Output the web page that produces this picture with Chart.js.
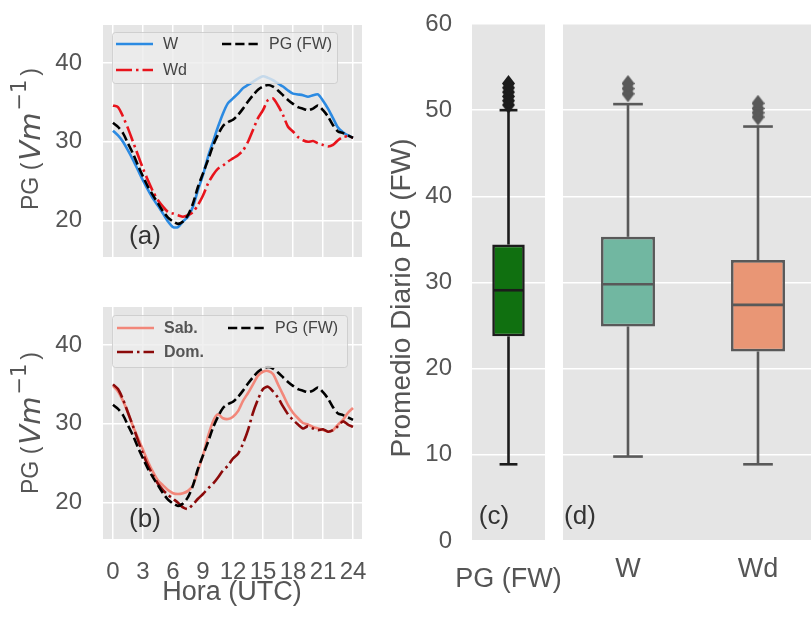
<!DOCTYPE html>
<html><head><meta charset="utf-8">
<script src="https://cdn.jsdelivr.net/npm/chart.js@4.4.1/dist/chart.umd.min.js"></script>
<style>
html,body{margin:0;padding:0;background:#fff;overflow:hidden;}
#wrap{position:relative;width:811px;height:619px;overflow:hidden;}
canvas{position:absolute;}
</style></head><body>
<div id="wrap">
<canvas id="ca" width="370" height="270" style="left:0;top:0;width:370px;height:270px"></canvas>
<canvas id="cb" width="370" height="349" style="left:0;top:270px;width:370px;height:349px"></canvas>
<canvas id="cc" width="200" height="619" style="left:370px;top:0;width:200px;height:619px"></canvas>
<canvas id="cd" width="280" height="619" style="left:555px;top:0;width:280px;height:619px"></canvas>
</div>
<script>
// ---------------- DATA ----------------
const hours = [0,0.5,1,1.5,2,2.5,3,3.5,4,4.5,5,5.5,6,6.5,7,7.5,8,8.5,9,9.5,10,10.5,11,11.5,12,12.5,13,13.5,14,14.5,15,15.5,16,16.5,17,17.5,18,18.5,19,19.5,20,20.5,21,21.5,22,22.5,23,23.5,24];
const hourTicks = [0,3,6,9,12,15,18,21,24];
const hourTickLabels = ['0','3','6','9','12','15','18','21','24'];
const pgTicks = [20,30,40];
const boxTicks = [0,10,20,30,40,50,60];

const seriesW  = [31.4,30.8,30.0,28.9,27.7,26.4,25.1,23.9,22.8,21.9, 20.9,19.9,19.2,19.2,19.9,20.5,21.8,23.9,25.8,28.1, 30.0,31.9,33.6,34.9,35.5,36.1,36.8,37.2,37.6,38.0, 38.3,38.1,37.8,37.4,37.0,36.5,36.1,36.0,35.9,35.7, 35.9,36.0,35.2,34.2,33.0,31.8,31.2,30.8,30.5];
const seriesWd = [34.6,34.4,33.2,31.7,30.0,28.3,26.6,25.1,23.7,22.6, 21.8,21.1,20.9,20.7,20.5,20.7,21.1,22.0,23.2,24.7, 25.8,26.6,27.0,27.5,27.9,28.3,28.9,30.0,31.5,33.0, 34.0,35.3,35.5,34.6,33.4,31.9,31.3,30.6,30.2,30.0, 30.1,29.8,29.6,29.4,29.6,30.2,30.6,30.7,30.5];
const seriesFW = [32.4,31.9,31.1,29.8,28.5,27.0,25.6,24.3,23.2,22.2, 21.2,20.4,19.9,19.6,19.9,20.7,22.2,24.3,26.0,27.7, 29.5,30.9,32.0,32.5,32.8,33.4,34.2,35.1,35.9,36.6, 37.0,37.2,37.0,36.5,35.9,35.3,34.8,34.4,34.2,34.0, 34.2,34.6,34.0,33.2,32.1,31.3,31.1,30.8,30.5];
const seriesSab = [34.8,34.1,32.9,31.4,29.7,28.2,26.7,25.2,23.9,22.8, 22.2,21.6,21.2,21.1,21.2,21.5,22.2,24.1,26.0,28.4, 30.3,31.2,30.7,30.6,30.9,31.6,32.9,33.9,35.0,36.1, 36.6,36.7,36.3,35.0,33.7,32.4,31.4,30.7,30.1,29.9, 29.6,29.4,29.2,29.0,29.2,29.9,30.5,31.4,32.0];
const seriesDom = [35.0,34.4,33.1,31.4,29.7,27.9,26.2,24.7,23.5,22.4, 21.6,21.0,20.5,20.0,19.4,19.2,19.8,20.5,21.1,21.8, 22.4,23.2,24.1,24.7,25.6,26.2,27.5,29.2,31.4,33.1, 34.4,34.7,34.1,33.3,32.2,31.2,30.5,29.9,29.4,29.7, 29.4,29.2,29.3,29.0,29.2,29.7,30.3,29.9,29.6];

const boxCatC = ['PG (FW)'];
const boxCatD = ['W','Wd'];
const q1C = [23.75], medC = [29.1], q3C = [34.4], loC = [8.9], hiC = [50.0];
const outC = [50.6,51.1,51.6,52.1,52.6,53.1];
const q1D = [24.9,22.0], medD = [29.8,27.4], q3D = [35.3,32.6], loD = [9.8,8.9], hiD = [50.7,48.1];
const outW = [51.9,52.5,53.1];
const outWd = [49.2,49.7,50.2,50.8];

// ---------------- HELPERS ----------------
Chart.defaults.font.family = 'Liberation Sans';
Chart.defaults.animation = false;
const GRID = '#ffffff', BG = '#e5e5e5', TICK = '#555555';
const pts = (xs, ys) => xs.map((h,i)=>({x:h, y:ys[i]}));

function diamond(color, w, h){
  const c = document.createElement('canvas'); c.width = w; c.height = h;
  const g = c.getContext('2d'); g.fillStyle = color; g.beginPath();
  g.moveTo(w/2,0); g.lineTo(w,h/2); g.lineTo(w/2,h); g.lineTo(0,h/2); g.closePath(); g.fill();
  return c;
}

const bgPlugin = { id:'panelBg', beforeDraw(chart){ const {ctx, chartArea:a} = chart; ctx.save(); ctx.fillStyle = BG; ctx.fillRect(a.left,a.top,a.right-a.left,a.bottom-a.top); ctx.restore(); } };

const textPlugin = { id:'texts', afterDraw(chart, args, o){
  if(!o || !o.items) return; const ctx = chart.ctx;
  o.items.forEach(it=>{
    ctx.save(); ctx.translate(it.x, it.y); if(it.rot) ctx.rotate(it.rot);
    ctx.textBaseline = 'middle';
    const parts = it.parts || [{t:it.t, f:it.f}];
    let total = 0; parts.forEach(p=>{ ctx.font = p.f; p.w = ctx.measureText(p.t).width + (p.gap||0); total += p.w; });
    let x = -total/2;
    parts.forEach(p=>{ ctx.font = p.f; ctx.fillStyle = it.c; ctx.textAlign='left'; ctx.fillText(p.t, x + (p.gap||0), p.dy||0); x += p.w; });
    ctx.restore();
  });
}};

const legendPlugin = { id:'customLegend', afterDatasetsDraw(chart, args, o){
  if(!o || !o.items) return; const {ctx, chartArea:a} = chart;
  const x0 = a.left + o.dx, y0 = a.top + o.dy;
  ctx.save();
  ctx.beginPath(); ctx.roundRect(x0+0.5, y0+0.5, o.w, o.h, 3);
  ctx.fillStyle = 'rgba(236,236,236,0.8)'; ctx.fill();
  ctx.strokeStyle = 'rgba(200,200,200,0.8)'; ctx.lineWidth = 1; ctx.stroke();
  o.items.forEach(it=>{
    const ds = chart.data.datasets[it.ds];
    const cx = x0 + it.col, cy = y0 + it.row;
    ctx.strokeStyle = ds.borderColor; ctx.lineWidth = ds.borderWidth; ctx.setLineDash(ds.borderDash || []);
    ctx.beginPath(); ctx.moveTo(cx, cy); ctx.lineTo(cx + 37, cy); ctx.stroke(); ctx.setLineDash([]);
    ctx.font = (it.bold ? 'bold ' : '') + '16px Liberation Sans'; ctx.fillStyle = it.bold ? '#555' : '#444';
    ctx.textBaseline = 'middle'; ctx.textAlign = 'left';
    ctx.fillText(ds.label, cx + 47, cy + 1);
  });
  ctx.restore();
}};

const boxPlugin = { id:'boxParts',
  beforeDatasetsDraw(chart, args, o){
    if(!o || !o.lo) return; const ctx = chart.ctx, ys = chart.scales.y;
    const meta = chart.getDatasetMeta(0);
    ctx.save(); ctx.strokeStyle = o.color; ctx.lineWidth = 2.6; ctx.lineCap = 'butt';
    meta.data.forEach((el,i)=>{
      const capW = el.width * o.capFrac;
      [[o.q1[i], o.lo[i]], [o.q3[i], o.hi[i]]].forEach(([a,b])=>{
        const ya = ys.getPixelForValue(a), yb = ys.getPixelForValue(b);
        ctx.beginPath(); ctx.moveTo(el.x, ya); ctx.lineTo(el.x, yb); ctx.stroke();
        ctx.beginPath(); ctx.moveTo(el.x - capW/2, yb); ctx.lineTo(el.x + capW/2, yb); ctx.stroke();
      });
    });
    ctx.restore();
  },
  afterDatasetsDraw(chart, args, o){
    if(!o || !o.med) return; const ctx = chart.ctx, ys = chart.scales.y;
    const meta = chart.getDatasetMeta(0);
    ctx.save(); ctx.strokeStyle = o.color; ctx.lineWidth = 2.6;
    meta.data.forEach((el,i)=>{
      const y = ys.getPixelForValue(o.med[i]);
      ctx.beginPath(); ctx.moveTo(el.x - el.width/2 + 1, y); ctx.lineTo(el.x + el.width/2 - 1, y); ctx.stroke();
    });
    ctx.restore();
  }
};

const zeroPad = s => { s.paddingTop = 0; s.paddingBottom = 0; s.paddingLeft = 0; s.paddingRight = 0; };
const tickFont = {family:'Liberation Sans', size:24};
function lineScales(showX){
  return {
    x: { type:'linear', min:-1, max:24.9,
         afterBuildTicks: s => { s.ticks = hourTicks.map(v=>({value:v})); },
         ticks: { display: showX, font: tickFont, color: TICK, padding: 19, autoSkip:false, maxRotation:0, minRotation:0,
                  callback: (v,i) => hourTickLabels[i] },
         grid: { color: GRID, lineWidth: 1.5, drawTicks:false }, border:{display:false},
         afterFit: s => { s.height = showX ? 80 : 0; zeroPad(s); } },
    y: { type:'linear', min:15.4, max:44.8,
         afterBuildTicks: s => { s.ticks = pgTicks.map(v=>({value:v})); },
         ticks: { font: tickFont, color: TICK, padding: 21 },
         grid: { color: GRID, lineWidth: 1.5, drawTicks:false }, border:{display:false},
         afterFit: s => { s.width = 103; zeroPad(s); } }
  };
}
function lineDs(label, ys, color, dash, order){
  return { label, data: pts(hours, ys), borderColor: color, borderWidth: 2.6, borderDash: dash,
           pointRadius: 0, tension: 0.25, fill:false, order };
}
const DASH = [9.25, 4], DASHDOT = [16, 4, 2.5, 4];
const yTitleParts = [
  {t:'PG (', f:'23px Liberation Sans'},
  {t:'Vm', f:'italic 29px DejaVu Sans', gap:2},
  {t:'\u22121', f:'21px DejaVu Sans', dy:-11, gap:2},
  {t:')', f:'23px Liberation Sans', gap:4}
];

// ---------------- (a) ----------------
new Chart(document.getElementById('ca'), {
  type:'line',
  data:{ datasets:[
    lineDs('W', seriesW, '#2b8ae2', [], 2),
    lineDs('Wd', seriesWd, '#e8141c', DASHDOT, 1),
    lineDs('PG (FW)', seriesFW, '#000000', DASH, 0)
  ]},
  options:{ responsive:false, layout:{autoPadding:false, padding:{top:25,right:8,bottom:13,left:0}},
    scales: lineScales(false),
    plugins:{ legend:{display:false}, tooltip:{enabled:false},
      customLegend:{ dx:9, dy:7, w:225, h:51, items:[{ds:0,col:4,row:12},{ds:1,col:4,row:38},{ds:2,col:110,row:12}] },
      texts:{ items:[
        {parts:yTitleParts, x:32, y:139, rot:-Math.PI/2, c:TICK},
        {t:'(a)', f:'26px Liberation Sans', x:145, y:237, c:'#333'}
      ]}
    }
  },
  plugins:[bgPlugin, legendPlugin, textPlugin]
});

// ---------------- (b) ----------------
new Chart(document.getElementById('cb'), {
  type:'line',
  data:{ datasets:[
    lineDs('Sab.', seriesSab, '#f2877a', [], 2),
    lineDs('Dom.', seriesDom, '#8b0a0a', DASHDOT, 1),
    lineDs('PG (FW)', seriesFW, '#000000', DASH, 0)
  ]},
  options:{ responsive:false, layout:{autoPadding:false, padding:{top:37,right:8,bottom:0,left:0}},
    scales: lineScales(true),
    plugins:{ legend:{display:false}, tooltip:{enabled:false},
      customLegend:{ dx:9, dy:8, w:235, h:52, items:[{ds:0,col:5,row:13,bold:true},{ds:1,col:5,row:37,bold:true},{ds:2,col:116,row:13}] },
      texts:{ items:[
        {parts:yTitleParts, x:32, y:153, rot:-Math.PI/2, c:TICK},
        {t:'Hora (UTC)', f:'27px Liberation Sans', x:232, y:323, c:TICK},
        {t:'(b)', f:'26px Liberation Sans', x:145, y:250, c:'#333'}
      ]}
    }
  },
  plugins:[bgPlugin, legendPlugin, textPlugin]
});

// ---------------- (c) ----------------
const boxYScale = (showTicks) => ({ type:'linear', min:0, max:60,
  afterBuildTicks: s => { s.ticks = boxTicks.map(v=>({value:v})); },
  ticks:{ display: showTicks, font: tickFont, color: TICK, padding: 20 },
  grid:{ color: GRID, lineWidth: 1.5, drawTicks:false }, border:{display:false},
  afterFit: s => { s.width = showTicks ? 102 : 0; zeroPad(s); } });

new Chart(document.getElementById('cc'), {
  type:'bar',
  data:{ labels: boxCatC, datasets:[
    { data: boxCatC.map((c,i)=>[q1C[i], q3C[i]]), backgroundColor:'#107010', borderColor:'#1c1c1c', borderWidth:2.6,
      borderSkipped:false, barPercentage:0.445, categoryPercentage:1, order:1 },
    { type:'line', showLine:false, data: outC.map(v=>({x:'PG (FW)', y:v})), pointStyle: diamond('#1c1c1c',13,17), pointRadius:8, order:0 }
  ]},
  options:{ responsive:false, layout:{autoPadding:false, padding:{top:24,right:25,bottom:0,left:0}},
    scales:{
      x:{ type:'category', offset:true, grid:{display:false, drawTicks:false}, border:{display:false},
          ticks:{ font:{family:'Liberation Sans', size:27}, color:TICK, padding:22 },
          afterFit: s => { s.height = 78; zeroPad(s); } },
      y: boxYScale(true)
    },
    plugins:{ legend:{display:false}, tooltip:{enabled:false},
      boxParts:{ q1:q1C, q3:q3C, lo:loC, hi:hiC, med:medC, color:'#1c1c1c', capFrac:0.55 },
      texts:{ items:[
        {t:'Promedio Diario PG (FW)', f:'28px Liberation Sans', x:32, y:298, rot:-Math.PI/2, c:TICK},
        {t:'(c)', f:'26px Liberation Sans', x:124, y:517, c:'#333'}
      ]}
    }
  },
  plugins:[bgPlugin, boxPlugin, textPlugin]
});

// ---------------- (d) ----------------
new Chart(document.getElementById('cd'), {
  type:'bar',
  data:{ labels: boxCatD, datasets:[
    { data: boxCatD.map((c,i)=>[q1D[i], q3D[i]]), backgroundColor:['#71b7a1','#e99675'], borderColor:'#595959', borderWidth:2.6,
      borderSkipped:false, barPercentage:0.415, categoryPercentage:1, order:1 },
    { type:'line', showLine:false, data: outW.map(v=>({x:'W', y:v})).concat(outWd.map(v=>({x:'Wd', y:v}))),
      pointStyle: diamond('#595959',13,17), pointRadius:8, order:0 }
  ]},
  options:{ responsive:false, layout:{autoPadding:false, padding:{top:24,right:12,bottom:0,left:8}},
    scales:{
      x:{ type:'category', offset:true, grid:{display:false, drawTicks:false}, border:{display:false},
          ticks:{ font:{family:'Liberation Sans', size:27}, color:TICK, padding:12 },
          afterFit: s => { s.height = 78; zeroPad(s); } },
      y: boxYScale(false)
    },
    plugins:{ legend:{display:false}, tooltip:{enabled:false},
      boxParts:{ q1:q1D, q3:q3D, lo:loD, hi:hiD, med:medD, color:'#595959', capFrac:0.55 },
      texts:{ items:[
        {t:'(d)', f:'26px Liberation Sans', x:25, y:517, c:'#333'}
      ]}
    }
  },
  plugins:[bgPlugin, boxPlugin, textPlugin]
});
</script>
</body></html>
